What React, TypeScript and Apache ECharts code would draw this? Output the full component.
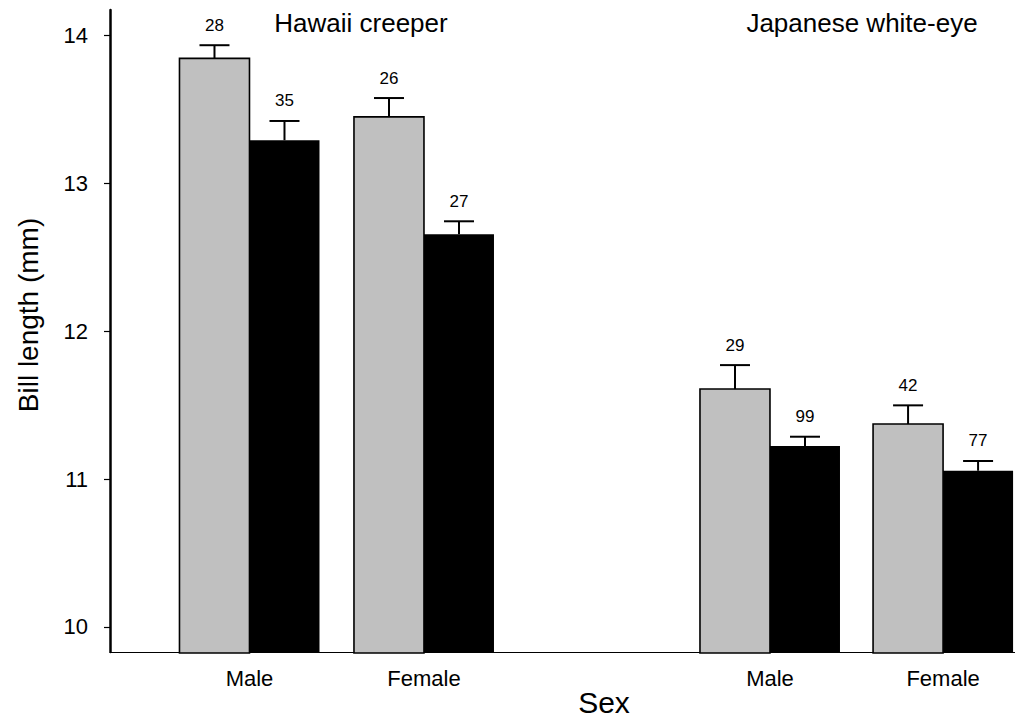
import React, { useEffect, useRef } from "react";
import * as echarts from "echarts";

const categories = ["Male", "Female", "Male", "Female"];
const species = ["Hawaii creeper", "Japanese white-eye"];
const yTicks = [10, 11, 12, 13, 14];
// gray bars
const grayMeans = [13.843, 13.448, 11.608, 11.372];
const grayErr = [0.089, 0.127, 0.162, 0.126];
const grayN = [28, 26, 29, 42];
// black bars
const blackMeans = [13.29, 12.655, 11.223, 11.056];
const blackErr = [0.13, 0.087, 0.063, 0.066];
const blackN = [35, 27, 99, 77];

// layout (group centre positions on the x scale)
const groupX = [1, 1.997, 3.974, 4.963];
const X_MIN = 0.203;
const X_MAX = 5.374;
const Y_MIN = 9.831;
const Y_MAX = 14.17;
const HALF = 0.4;

const FONT = "Liberation Sans, Arial, Helvetica, sans-serif";

function makeRender(side: "left" | "right", fill: string, stroke: string) {
  return (params: any, api: any) => {
    const x = api.value(0);
    const mean = api.value(1);
    const err = api.value(2);
    const n = api.value(3);
    const x0 = side === "left" ? x - HALF : x;
    const x1 = side === "left" ? x : x + HALF;
    const pTopL = api.coord([x0, mean]);
    const pBotR = api.coord([x1, Y_MIN]);
    const cx = (api.coord([x0, mean])[0] + api.coord([x1, mean])[0]) / 2;
    const yTop = pTopL[1];
    const yErr = api.coord([x, mean + err])[1];
    return {
      type: "group",
      children: [
        {
          type: "rect",
          shape: {
            x: pTopL[0],
            y: yTop,
            width: pBotR[0] - pTopL[0],
            height: pBotR[1] - yTop + 1,
          },
          style: { fill, stroke, lineWidth: stroke === "none" ? 0 : 1.6 },
        },
        {
          type: "line",
          shape: { x1: cx, y1: yTop, x2: cx, y2: yErr },
          style: { stroke: "#000", lineWidth: 2 },
        },
        {
          type: "line",
          shape: { x1: cx - 15, y1: yErr, x2: cx + 15, y2: yErr },
          style: { stroke: "#000", lineWidth: 2 },
        },
        {
          type: "text",
          style: {
            text: String(n),
            x: cx,
            y: yErr - 20,
            textAlign: "center",
            textVerticalAlign: "middle",
            fontSize: 17,
            fontFamily: FONT,
            fill: "#000",
          },
        },
      ],
    };
  };
}

export default function App() {
  const ref = useRef<HTMLDivElement>(null);
  useEffect(() => {
    if (!ref.current) return;
    const chart = echarts.init(ref.current, null, { renderer: "svg" });
    const grayData = groupX.map((x, i) => [x, grayMeans[i], grayErr[i], grayN[i]]);
    const blackData = groupX.map((x, i) => [x, blackMeans[i], blackErr[i], blackN[i]]);
    chart.setOption({
      animation: false,
      backgroundColor: "#fff",
      grid: { left: 110, right: 0, top: 10, bottom: 69 },
      xAxis: {
        type: "value",
        min: X_MIN,
        max: X_MAX,
        splitLine: { show: false },
        axisLine: { show: true, onZero: false, lineStyle: { color: "#000", width: 1 } },
        axisTick: { show: false },
        axisLabel: {
          customValues: groupX,
          formatter: (v: number) => {
            const i = groupX.findIndex((g) => Math.abs(g - v) < 1e-6);
            return i >= 0 ? categories[i] : "";
          },
          color: "#000",
          fontSize: 22,
          fontFamily: FONT,
          margin: 15,
          showMinLabel: true,
          showMaxLabel: true,
        },
      },
      yAxis: {
        type: "value",
        min: Y_MIN,
        max: Y_MAX,
        splitLine: { show: false },
        axisLine: { show: true, lineStyle: { color: "#000", width: 2.5 } },
        axisTick: {
          show: true,
          customValues: yTicks,
          length: 6,
          lineStyle: { color: "#000", width: 1.2 },
        },
        axisLabel: {
          customValues: yTicks,
          color: "#000",
          fontSize: 22,
          fontFamily: FONT,
          margin: 22,
        },
      },
      graphic: [
        {
          type: "text",
          x: 361,
          y: 23,
          style: {
            text: species[0],
            fontSize: 26,
            fontFamily: FONT,
            fill: "#000",
            textAlign: "center",
            textVerticalAlign: "middle",
          },
        },
        {
          type: "text",
          x: 862,
          y: 23,
          style: {
            text: species[1],
            fontSize: 26,
            fontFamily: FONT,
            fill: "#000",
            textAlign: "center",
            textVerticalAlign: "middle",
          },
        },
        {
          type: "text",
          x: 28,
          y: 315,
          rotation: Math.PI / 2,
          style: {
            text: "Bill length (mm)",
            fontSize: 28,
            fontFamily: FONT,
            fill: "#000",
            textAlign: "center",
            textVerticalAlign: "middle",
          },
        },
        {
          type: "text",
          x: 604,
          y: 702,
          style: {
            text: "Sex",
            fontSize: 30,
            fontFamily: FONT,
            fill: "#000",
            textAlign: "center",
            textVerticalAlign: "middle",
          },
        },
      ],
      series: [
        {
          type: "custom",
          name: "gray",
          renderItem: makeRender("left", "#c0c0c0", "#000"),
          data: grayData,
          clip: false,
          z: 2,
        },
        {
          type: "custom",
          name: "black",
          renderItem: makeRender("right", "#000", "none"),
          data: blackData,
          clip: false,
          z: 3,
        },
      ],
    });
    return () => chart.dispose();
  }, []);
  return <div ref={ref} style={{ width: 1015, height: 721, position: "absolute", left: 0, top: 0 }} />;
}
